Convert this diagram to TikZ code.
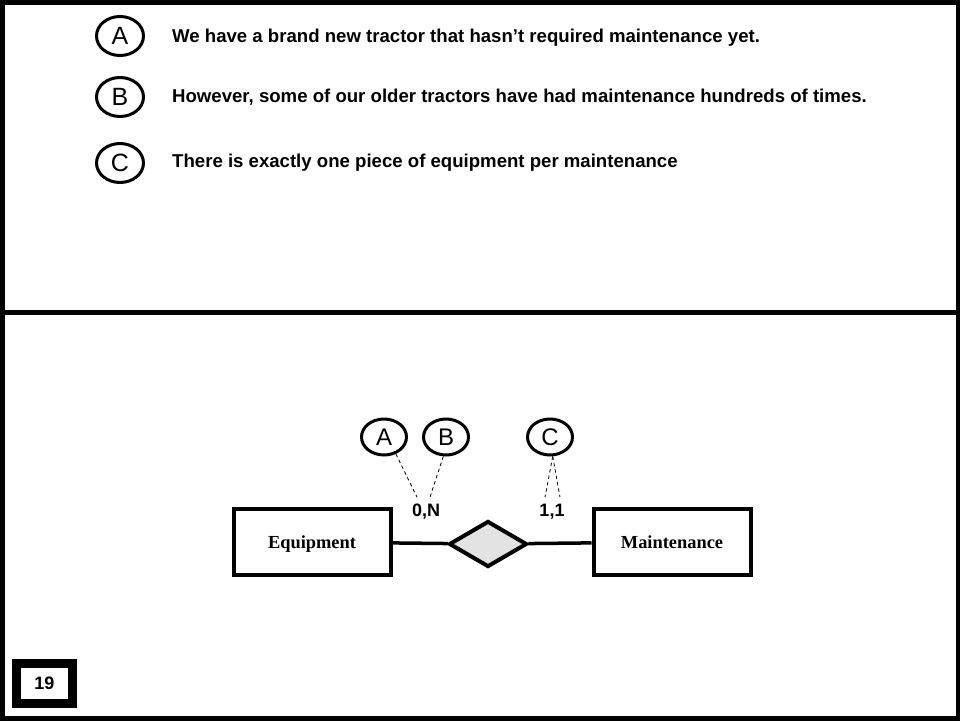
\documentclass[tikz,border=0pt]{standalone}
\usepackage{fontspec}
\setmainfont{Liberation Sans}
\newfontfamily\serifbold{Liberation Serif}
\usetikzlibrary{shapes.geometric,positioning,calc}
\definecolor{ink}{HTML}{000000}
\definecolor{relfill}{HTML}{E3E3E3}
\tikzset{
  figbase/.style={x=1pt, y=-1pt, color=ink, line join=miter},
  frame/.style={draw=ink, line width=5pt},
  tag/.style={
    ellipse, draw=ink, line width=3pt, fill=white,
    minimum width=47pt, minimum height=39pt, inner sep=0pt,
    font=\fontsize{25}{25}\selectfont,
  },
  smalltag/.style={tag, minimum width=45pt, minimum height=36pt, font=\fontsize{24}{24}\selectfont},
  note/.style={anchor=west, inner sep=0pt, font=\fontsize{18.6}{20}\bfseries\selectfont},
  entity/.style={
    draw=ink, line width=4pt, fill=white,
    minimum width=157pt, minimum height=66pt, inner sep=0pt,
    text height=14pt, text depth=2pt,
    font=\fontsize{18.4}{18.4}\serifbold\bfseries\selectfont,
  },
  relation/.style={
    diamond, draw=ink, line width=4pt, fill=relfill,
    minimum width=78pt, minimum height=46pt, aspect=1.64, inner sep=0pt,
  },
  card/.style={inner sep=1pt, font=\fontsize{18}{18}\bfseries\selectfont},
  link/.style={draw=ink, line width=3.5pt},
  tie/.style={draw=ink, line width=0.8pt, dash pattern=on 3.5pt off 3pt},
  pagebox/.style={
    draw=ink, line width=9pt, fill=white,
    minimum width=56pt, minimum height=40pt, inner sep=0pt,
    font=\fontsize{18}{18}\bfseries\selectfont,
  },
}

\begin{document}
\begin{tikzpicture}[figbase]
  \useasboundingbox (0,0) rectangle (960,720);
  \draw[frame] (2.5,2) rectangle (958,718);
  \draw[frame] (0,312) -- (960,312);

  % statements
  \node[tag] (topA) at (120,36) {A};
  \node[tag] (topB) at (120,97) {B};
  \node[tag] (topC) at (120,163) {C};
  \node[note] (noteA) at (172,38) {We have a brand new tractor that hasn’t required maintenance yet.};
  \node[note] (noteB) at (172,97) {However, some of our older tractors have had maintenance hundreds of times.};
  \node[note] (noteC) at (172,163) {There is exactly one piece of equipment per maintenance};

  % ER diagram
  \node[entity] (equip) at (312,542) {Equipment};
  \node[entity] (maint) at (672,542) {Maintenance};
  \node[relation] (rel) at (488,544) {};
  \draw[link] (equip) -- (rel);
  \draw[link] (rel) -- (maint);

  \node[card] (zeroN) at (426,512) {0,N};
  \node[card] (oneOne) at (552,512) {1,1};

  \node[smalltag] (botA) at (384,437) {A};
  \node[smalltag] (botB) at (446,437) {B};
  \node[smalltag] (botC) at (550,437) {C};

  \draw[tie] (botA.305) -- ([xshift=-9pt,yshift=6pt]zeroN.north);
  \draw[tie] (botB.262) -- ([xshift=4pt,yshift=6pt]zeroN.north);
  \draw[tie] (botC.278) -- ([xshift=-7pt,yshift=6pt]oneOne.north);
  \draw[tie] (botC.278) -- ([xshift=8pt,yshift=6pt]oneOne.north);

  \node[pagebox] (page) at (44.5,683.5) {19};
\end{tikzpicture}
\end{document}
